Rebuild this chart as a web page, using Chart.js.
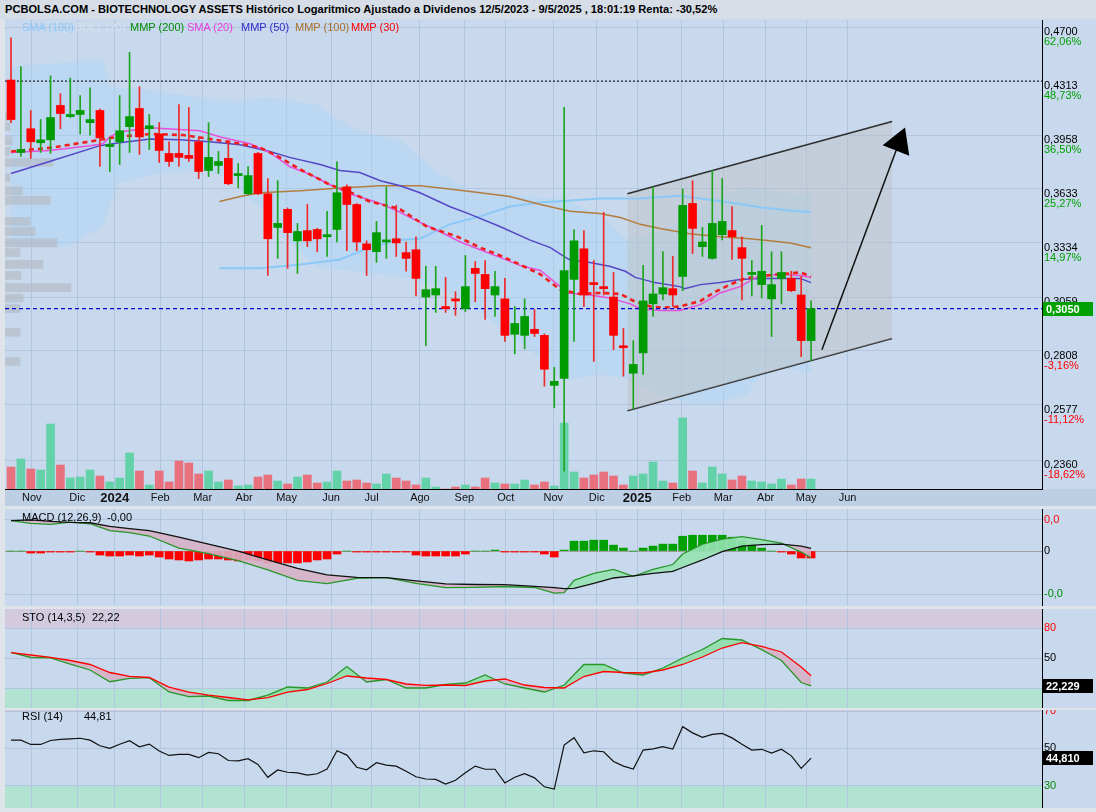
<!DOCTYPE html>
<html>
<head>
<meta charset="utf-8">
<title>BIOTECHNOLOGY ASSETS</title>
<script src="https://cdn.jsdelivr.net/npm/chart.js@4.4.1/dist/chart.umd.min.js"></script>
<style>
  body { margin:0; width:1096px; height:812px; overflow:hidden; background:#dfe4ea; position:relative;
         font-family:"Liberation Sans", Arial, sans-serif; }
  canvas { position:absolute; left:0; }
  #title { position:absolute; left:0; top:0; width:1096px; height:19px; background:#d6dde6; font-weight:bold;
           font-size:11.1px; line-height:19px; padding-left:5px; box-sizing:border-box; white-space:nowrap; }
  .t { position:absolute; white-space:nowrap; font-size:11px; line-height:13px; }
</style>
</head>
<body>
<canvas id="main" width="1096" height="506" style="top:0"></canvas>
<canvas id="macd" width="1096" height="97" style="top:509px"></canvas>
<canvas id="sto" width="1096" height="99" style="top:609px"></canvas>
<canvas id="rsi" width="1096" height="98" style="top:710px"></canvas>

<div id="title">PCBOLSA.COM - BIOTECHNOLOGY ASSETS Histórico Logaritmico Ajustado a Dividenos 12/5/2023 - 9/5/2025 , 18:01:19 Renta: -30,52%</div>
<div class="t" style="left:22px;top:21px;color:rgb(140,200,245)">SMA (100)</div>
<div class="t" style="left:75px;top:21px;color:rgb(214,224,236)">BOLL (20)</div>
<div class="t" style="left:130px;top:21px;color:rgb(0,140,0)">MMP (200)</div>
<div class="t" style="left:187px;top:21px;color:rgb(230,60,220)">SMA (20)</div>
<div class="t" style="left:241px;top:21px;color:rgb(50,40,200)">MMP (50)</div>
<div class="t" style="left:295px;top:21px;color:rgb(170,110,40)">MMP (100)</div>
<div class="t" style="left:351px;top:21px;color:rgb(255,0,0)">MMP (30)</div>
<div class="t" style="left:22px;top:511px">MACD (12,26,9)</div>
<div class="t" style="left:107px;top:511px">-0,00</div>
<div class="t" style="left:22px;top:611px">STO (14,3,5)</div>
<div class="t" style="left:92px;top:611px">22,22</div>
<div class="t" style="left:22px;top:710px">RSI (14)</div>
<div class="t" style="left:84px;top:710px">44,81</div>

<script>
// weekly candles, week of 16/10/2023 to week of 5/5/2025
var open = [0.4320,0.3850,0.3998,0.3910,0.3928,0.4149,0.4076,0.4090,0.4037,0.4116,
            0.3886,0.3916,0.4011,0.4129,0.3998,0.3965,0.3844,0.3844,0.3832,0.3916,
            0.3741,0.3771,0.3814,0.3711,0.3605,0.3844,0.3605,0.3417,0.3517,0.3345,
            0.3400,0.3406,0.3367,0.3406,0.3645,0.3544,0.3329,0.3288,0.3339,0.3356,
            0.3283,0.3298,0.3059,0.3069,0.3013,0.3050,0.3003,0.3202,0.3171,0.3069,
            0.3050,0.2883,0.2878,0.2906,0.2878,0.2658,0.2688,0.3146,0.3303,0.3130,
            0.3110,0.3059,0.2831,0.2710,0.2799,0.3026,0.3074,0.3100,0.3161,0.3550,
            0.3314,0.3253,0.3378,0.3400,0.3309,0.3171,0.3120,0.3050,0.3151,0.3151,
            0.3069,0.2854];
var high = [0.4621,0.4413,0.4116,0.4057,0.4349,0.4228,0.4334,0.4215,0.4267,0.4125,
            0.3940,0.4215,0.4514,0.4274,0.4090,0.4037,0.3916,0.4155,0.4136,0.3946,
            0.4037,0.3856,0.3922,0.3783,0.3765,0.3850,0.3693,0.3681,0.3525,0.3439,
            0.3544,0.3412,0.3506,0.3795,0.3657,0.3550,0.3345,0.3450,0.3645,0.3539,
            0.3339,0.3367,0.3212,0.3212,0.3156,0.3085,0.3268,0.3237,0.3242,0.3187,
            0.3151,0.3013,0.3050,0.2999,0.2885,0.2735,0.4136,0.3406,0.3400,0.3242,
            0.3500,0.3181,0.2910,0.2854,0.3217,0.3645,0.3288,0.3263,0.3633,0.3681,
            0.3417,0.3741,0.3693,0.3533,0.3367,0.3242,0.3428,0.3288,0.3288,0.3187,
            0.3161,0.3040];
var low = [0.4037,0.3826,0.3814,0.3850,0.3844,0.3998,0.4070,0.3965,0.3958,0.3765,
           0.3735,0.3777,0.3850,0.3838,0.3868,0.3789,0.3765,0.3765,0.3795,0.3693,
           0.3705,0.3723,0.3657,0.3639,0.3600,0.3600,0.3166,0.3253,0.3202,0.3176,
           0.3314,0.3288,0.3263,0.3339,0.3293,0.3293,0.3166,0.3232,0.3253,0.3263,
           0.3187,0.3064,0.2831,0.2985,0.2985,0.2971,0.2989,0.3036,0.2952,0.2966,
           0.2850,0.2795,0.2817,0.2873,0.2654,0.2565,0.2319,0.2850,0.3013,0.2761,
           0.3069,0.2813,0.2697,0.2561,0.2705,0.2966,0.3045,0.3013,0.3090,0.3278,
           0.3263,0.3248,0.3350,0.3248,0.3045,0.3064,0.3054,0.2873,0.3026,0.3085,
           0.2782,0.2765];
var close = [0.4057,0.3868,0.3916,0.3928,0.4070,0.4096,0.4090,0.4116,0.4057,0.3940,
             0.3898,0.3985,0.4076,0.3946,0.4017,0.3862,0.3795,0.3820,0.3814,0.3735,
             0.3820,0.3795,0.3663,0.3723,0.3711,0.3605,0.3356,0.3439,0.3389,0.3395,
             0.3345,0.3356,0.3378,0.3611,0.3544,0.3339,0.3298,0.3389,0.3350,0.3334,
             0.3253,0.3151,0.3095,0.3100,0.3003,0.3040,0.3110,0.3176,0.3100,0.3110,
             0.2878,0.2933,0.2966,0.2887,0.2727,0.2675,0.3191,0.3345,0.3069,0.3120,
             0.3100,0.2878,0.2822,0.2748,0.3040,0.3074,0.3105,0.3069,0.3539,0.3412,
             0.3339,0.3439,0.3450,0.3367,0.3253,0.3181,0.3187,0.3120,0.3181,0.3090,
             0.2854,0.3003];
var volume = [220,300,200,190,650,240,110,120,190,130, 70,110,360,180,40,180,70,280,260,150,
              180,70,90,30,40,120,140,80,50,120, 140,60,70,180,80,90,60,50,150,110,
              80,40,110,20,0,20,40,20,110,60, 50,50,90,40,70,30,660,170,110,140,
              170,130,40,130,150,270,80,60,710,180, 60,220,150,90,130,80,70,50,100,40,
              100,100];

// moving averages [week index, price]
var mmp30 = [[0,0.3856],[4.2,0.3880],[9,0.3928],[10.7,0.3946],[14.1,0.3965],[17.4,0.3958],[20.1,0.3934],[23.2,0.3904],
             [25.2,0.3880],[27.2,0.3820],[29.3,0.3747],[32.3,0.3657],[34.3,0.3616],[36.3,0.3561],[38.4,0.3533],[39.4,0.3517],
             [42.1,0.3422],[45.2,0.3367],[47.5,0.3309],[49.5,0.3268],[51.5,0.3222],[53.6,0.3171],[55.6,0.3095],[57.6,0.3074],
             [59.6,0.3079],[61.7,0.3074],[63.2,0.3036],[64.7,0.3013],[66.2,0.3008],[67.7,0.3013],[69.8,0.3040],[71.3,0.3085],
             [72.8,0.3120],[74.3,0.3151],[75.8,0.3161],[77.4,0.3171],[78.9,0.3176],[79.9,0.3181],[81,0.3161]];
var sma20 = [[0,0.3850],[3.9,0.3862],[8,0.3892],[9.3,0.3904],[10,0.3946],[11,0.3978],[14.1,0.4004],[19.1,0.3985],
             [21.2,0.3946],[24.2,0.3904],[26.2,0.3850],[28.2,0.3765],[30.3,0.3717],[32.3,0.3657],[34.3,0.3605],[37.4,0.3550],
             [39.4,0.3500],[41.4,0.3445],[43.4,0.3395],[45.5,0.3339],[47.5,0.3298],[49.5,0.3258],[51.5,0.3217],[53.6,0.3191],
             [55.6,0.3110],[56.3,0.3079],[58.6,0.3069],[60.6,0.3054],[62.7,0.3026],[63.7,0.3003],[65.7,0.2994],[67.7,0.2994],
             [69.8,0.3022],[71.8,0.3079],[73.8,0.3110],[75.8,0.3166],[77.9,0.3171],[79.9,0.3166],[81,0.3156]];
var mmp50 = [[0,0.3723],[3.9,0.3795],[9,0.3892],[11,0.3910],[14.1,0.3934],[17.1,0.3928],[20.1,0.3916],[23.2,0.3898],
             [26.2,0.3856],[28.2,0.3820],[31.3,0.3777],[33.3,0.3741],[35.3,0.3729],[37.4,0.3681],[39.4,0.3651],[41.4,0.3611],
             [44.4,0.3533],[46.5,0.3489],[49.5,0.3422],[52.5,0.3350],[54.6,0.3309],[56.5,0.3247],[58.6,0.3232],[60.6,0.3212],
             [62.2,0.3187],[63.2,0.3156],[65.2,0.3130],[67.7,0.3110],[68.2,0.3100],[69.8,0.3120],[71.8,0.3130],[73.8,0.3146],
             [75.8,0.3151],[77.9,0.3151],[79.9,0.3151],[81,0.3130]];
var mmp100 = [[21.1,0.3561],[23.2,0.3589],[25.2,0.3611],[29.3,0.3622],[33.3,0.3639],[37.4,0.3651],[41.4,0.3651],[44.4,0.3633],
              [47.5,0.3611],[50.5,0.3589],[53.6,0.3544],[56.6,0.3506],[59.6,0.3494],[61.7,0.3472],[63.7,0.3434],[65.7,0.3411],
              [68.7,0.3383],[71.8,0.3367],[74.8,0.3356],[76.8,0.3345],[78.9,0.3334],[81,0.3309]];
var sma100 = [[21.1,0.3202],[25.2,0.3202],[29.3,0.3222],[33.3,0.3247],[36.3,0.3309],[39.4,0.3350],[41.4,0.3356],[44.4,0.3434],
              [47.5,0.3478],[50.5,0.3533],[53.6,0.3555],[56.6,0.3567],[59.6,0.3578],[63.7,0.3578],[67.7,0.3594],[69.8,0.3578],
              [72.8,0.3555],[75.8,0.3528],[78.9,0.3511],[81,0.3500]];

// bollinger (20)
var bollX = [0,2.2,5.7,9.3,10,10.7,12.4,14.1,15.8,19.1,22.5,24.2,25.9,27.5,29.3,31,32.6,34.3,36,39.4,
             42.7,46.5,52.5,55.9,59.6,62.4,65.7,68.7,71.5,74.5,76.5,78.9,81];
var bollUpper = [0.4413,0.4428,0.4442,0.4463,0.4274,0.4267,0.4260,0.4254,0.4234,0.4201,0.4175,0.4188,0.4201,0.4188,0.4168,
                 0.4155,0.4076,0.4011,0.3971,0.3928,0.3747,0.3627,0.3589,0.3572,0.3489,0.3350,0.3395,0.3478,0.3589,0.3645,
                 0.3627,0.3605,0.3600];
var bollLower = [0.3314,0.3314,0.3314,0.3422,0.3533,0.3669,0.3687,0.3711,0.3729,0.3747,0.3687,0.3572,0.3500,0.3367,0.3283,
                 0.3212,0.3197,0.3191,0.3181,0.3161,0.3120,0.3022,0.2813,0.2675,0.2705,0.2684,0.2620,0.2585,0.2585,0.2620,
                 0.2740,0.2727,0.2714];

// volume by price (left side)
var vpPrice = [0.4076,0.4011,0.3922,0.3856,0.3789,0.3699,0.3622,0.3567,0.3450,0.3395,0.3334,0.3283,0.3222,0.3166,0.3105,
               0.3054,0.3003,0.2892,0.2761];
var vpVolume = [700,500,700,500,4800,500,1700,4500,2500,3000,5200,1500,3800,1600,6600,1800,1500,1500,1500];

// drawn channel + arrow
var channelX = [62.4, 89.2];
var channelUpper = [0.3605, 0.4044];
var channelLower = [0.2553, 0.2864];
var arrowX = [82.1, 89.9];
var arrowY = [0.2813, 0.3910];
var resistance = 0.4313;
var lastPriceLabel = '0,3050';

// axes
var monthPos = [2.1,6.7,10.5,15.1,19.4,23.6,27.9,32.4,36.5,41.4,45.9,50.1,54.9,59.3,63.4,67.9,72.1,76.4,80.5,84.7];
var monthLabels = ['Nov','Dic','2024','Feb','Mar','Abr','May','Jun','Jul','Ago','Sep','Oct','Nov','Dic','2025','Feb','Mar','Abr','May','Jun'];
var priceTicks = [0.4700,0.4313,0.3958,0.3633,0.3334,0.3059,0.2808,0.2577,0.2360];
var priceLabels = ['0,4700','0,4313','0,3958','0,3633','0,3334','0,3059','0,2808','0,2577','0,2360'];
var pctLabels = ['62,06%','48,73%','36,50%','25,27%','14,97%','5,48%','-3,16%','-11,12%','-18,62%'];

// MACD (12,26,9)
var macdX = [0,2,4,6,8,10,12,14,17,20,23,26,29,32,35,38,41,44,47,50,53,55,56,57,59,61,63,65,67,68,70,72,74,76,78,80,81];
var macdLine = [0.0154,0.0140,0.0135,0.0146,0.0138,0.0103,0.0093,0.0076,0.0015,-0.0013,-0.0048,-0.0095,-0.0148,-0.0164,
                -0.0138,-0.0134,-0.0163,-0.0185,-0.0183,-0.0179,-0.0184,-0.0212,-0.0210,-0.0148,-0.0113,-0.0093,-0.0128,
                -0.0093,-0.0068,-0.0015,0.0035,0.0060,0.0073,0.0058,0.0040,-0.0005,-0.0034];
var signalLine = [0.0154,0.0158,0.0150,0.0145,0.0143,0.0125,0.0113,0.0103,0.0070,0.0035,0,-0.0045,-0.0088,-0.0120,
                  -0.0133,-0.0134,-0.0151,-0.0166,-0.0169,-0.0170,-0.0178,-0.0185,-0.0190,-0.0188,-0.0163,-0.0136,-0.0125,
                  -0.0113,-0.0103,-0.0083,-0.0045,-0.0003,0.0025,0.0033,0.0035,0.0025,0.0013];
var macdHist = [0,0,-0.001,-0.001,-0.0005,-0.0005,-0.0005,0,-0.0005,-0.002,
                -0.0025,-0.0025,-0.002,-0.0025,-0.002,-0.003,-0.004,-0.0045,-0.005,-0.0045,
                -0.004,-0.004,-0.0045,-0.005,-0.0045,-0.005,-0.006,-0.006,-0.006,-0.006,
                -0.0055,-0.0045,-0.004,-0.0015,0,-0.0005,-0.0005,-0.0005,-0.0005,-0.0005,
                -0.0005,-0.002,-0.0025,-0.0025,-0.0025,-0.0025,-0.0015,0,0,0.0005,
                -0.0005,-0.0005,-0.0005,-0.0005,-0.0015,-0.003,0.0005,0.005,0.005,0.0055,
                0.0055,0.003,0.0015,0,0.0015,0.0025,0.0035,0.0035,0.0075,0.008,
                0.008,0.008,0.008,0.007,0.005,0.0035,0.0015,0,-0.0005,-0.0015,
                -0.0035,-0.0035];

// STO (14,3,5)
var stoX = [0,2,4,6,8,10,12,14,16,18,20,22,24,26,28,30,32,34,36,38,40,42,44,46,48,50,52,54,56,58,60,62,64,66,68,70,72,74,76,78,80,81];
var stoK = [55.7,50.5,50.2,43.8,38,26.3,29.7,30.4,16,11.3, 12,7.5,7.5,12.8,21,20,26,41.5,26,28.5,
            20,20,23.5,25,33,24,20,16,23,43.5, 43.5,35,33,40,50,58.5,69.5,68,58.3,47.5, 25.5,22.2];
var stoD = [55.3,53,50.7,47.5,43.5,35.5,31.7,30.5,20.8,15.8, 12.8,10.5,8.2,10.3,15.8,18.5,24.5,32,30,28.5,
            24,22.6,23,22.5,27,29,23,20.5,20,31.5, 36.5,35.5,35,38,43.5,51,60,65.3,61.7,56, 41,32.3];

// RSI (14), one per candle
var rsi = [54.4,54.4,52.1,52.1,54.2,54.8,55.1,55.4,54.4,51.4, 50,52.2,54.1,50.8,52.3,48.6,46.2,46.8,46.8,45,
           47.8,47.1,43.5,43.3,44.5,41.4,34.5,38.4,37.2,36.9, 35.7,36.4,38.9,48.7,46.4,39.9,38.5,42.3,41,40.5,
           37.7,34.8,33.6,33.4,30.9,32.9,36.9,40.5,38.8,38.8, 31.5,34.5,36.4,34.2,29.4,28.2,51.8,55.7,47.6,48.7,
           48.2,43,40.5,38.9,49.1,49.7,50.9,49.6,61.6,58.3, 55.9,57.5,58,55.6,52.2,49.1,49.5,47.5,49.5,46,
           39.3,44.8];

var plotBg = 'rgb(200,217,238)';
var bandBg = 'rgb(189,207,229)';
var gridColor = 'rgb(178,197,224)';
var upColor = 'rgb(0,155,0)', downColor = 'rgb(255,0,0)';
var font = '"Liberation Sans", Arial, sans-serif';
var xMin = -0.61, xMax = 104.38;

var idx = close.map(function (c, i) { return i; });
var isUp = idx.map(function (i) { return close[i] >= open[i]; });
function pts(xs, ys) { return xs.map(function (x, k) { return {x: x, y: ys[k]}; }); }
function pairs(a) { return a.map(function (p) { return {x: p[0], y: p[1]}; }); }

var panelBg = {
    id: 'panelBg',
    beforeDraw: function (chart, args, opts) {
        var ctx = chart.ctx, a = chart.chartArea;
        ctx.save();
        ctx.fillStyle = plotBg;
        ctx.fillRect(a.left, 0, chart.width - a.left, chart.height);
        if (opts.band) {
            ctx.fillStyle = bandBg;
            ctx.fillRect(a.left, a.bottom, chart.width - a.left, chart.height - a.bottom);
        }
        ctx.beginPath();
        ctx.rect(a.left, a.top, a.right - a.left, a.bottom - a.top);
        ctx.clip();
        (opts.zones || []).forEach(function (z) {
            var y1 = chart.scales.y.getPixelForValue(z.from), y2 = chart.scales.y.getPixelForValue(z.to);
            ctx.fillStyle = z.color;
            ctx.fillRect(a.left, Math.min(y1, y2), a.right - a.left, Math.abs(y2 - y1));
        });
        ctx.restore();
    }
};

// month names under the price panel and value labels on the right axis
var sideLabels = {
    id: 'sideLabels',
    afterDraw: function (chart, args, opts) {
        var ctx = chart.ctx, sy = chart.scales.y, sx = chart.scales.x, a = chart.chartArea, x0 = a.right;
        ctx.save();
        ctx.textBaseline = 'middle';
        if (opts.months) {
            ctx.textAlign = 'center';
            ctx.fillStyle = '#111';
            monthLabels.forEach(function (m, k) {
                var year = /^\d{4}$/.test(m);
                ctx.font = (year ? 'bold 13px ' : '11px ') + font;
                ctx.fillText(m, sx.getPixelForValue(monthPos[k]), a.bottom + 9);
            });
        }
        ctx.textAlign = 'left';
        (opts.lines || []).forEach(function (l) {
            ctx.font = '11px ' + font;
            ctx.fillStyle = l.color;
            ctx.fillText(l.text, x0 + 2, sy.getPixelForValue(l.value) + (l.dy || 0));
        });
        (opts.boxes || []).forEach(function (b) {
            var py = Math.round(sy.getPixelForValue(b.value));
            ctx.fillStyle = b.bg;
            ctx.fillRect(x0 + 1, py - 7, 50, 14);
            ctx.fillStyle = '#fff';
            ctx.font = 'bold 11px ' + font;
            ctx.fillText(b.text, x0 + 4, py + 0.5);
        });
        ctx.restore();
    }
};

function xScale(labelBand) {
    return {
        type: 'linear', min: xMin, max: xMax, offset: false,
        afterBuildTicks: function (s) { s.ticks = monthPos.map(function (v) { return {value: v}; }); },
        afterFit: function (s) { s.height = labelBand ? 17 : 0; },
        grid: {color: gridColor, drawTicks: false, offset: false},
        border: {display: labelBand, color: '#000'},
        ticks: {display: false}
    };
}

function yScale(type, min, max, ticks, zeroLine) {
    return {
        type: type, position: 'right', min: min, max: max, offset: false,
        afterBuildTicks: function (s) { s.ticks = ticks.map(function (v) { return {value: v}; }); },
        afterFit: function (s) { s.width = 54; },
        grid: {drawTicks: false, offset: false,
               color: function (c) { return zeroLine && c.tick && c.tick.value === 0 ? 'rgb(160,160,160)' : gridColor; }},
        border: {color: '#000'},
        ticks: {display: false}
    };
}

function baseOptions(padTop) {
    return {
        animation: false, responsive: false, events: [],
        layout: {autoPadding: false, padding: {left: 5, top: padTop, right: 0, bottom: 0}},
        plugins: {legend: {display: false}, tooltip: {enabled: false}}
    };
}

// ---------- main price panel ----------
var lastClose = close[close.length - 1];
var mainOpts = baseOptions(20);
mainOpts.plugins.panelBg = {band: true};
mainOpts.plugins.sideLabels = {
    months: true,
    lines: priceTicks.map(function (v, k) {
        return [{value: v, text: priceLabels[k], color: '#000', dy: 5},
                {value: v, text: pctLabels[k], color: pctLabels[k].charAt(0) === '-' ? 'rgb(255,0,0)' : 'rgb(0,160,0)', dy: 15}];
    }).flat(),
    boxes: [{value: lastClose, text: lastPriceLabel, bg: 'rgb(0,160,0)'}]
};
mainOpts.scales = {
    x: xScale(true),
    y: yScale('logarithmic', 0.2254, 0.4753, priceTicks, false),
    yv: {type: 'linear', axis: 'y', display: false, offset: false, min: 0, max: 4690},
    xvp: {type: 'linear', axis: 'x', display: false, offset: false, min: 0, max: 103700}
};

new Chart(document.getElementById('main'), {
    type: 'line',
    data: {
        datasets: [
            {type: 'line', data: pts(arrowX, arrowY), borderColor: '#111', borderWidth: 1.5,
             pointRadius: [0, 15], pointStyle: 'triangle', pointRotation: 21.5,
             pointBackgroundColor: '#000', pointBorderColor: '#000', order: 1},
            {type: 'bar', data: idx.map(function (i) { return {x: i, y: [open[i], close[i]]}; }),
             backgroundColor: idx.map(function (i) { return isUp[i] ? upColor : downColor; }),
             barThickness: 8, minBarLength: 2, grouped: false, order: 2},
            {type: 'bar', data: idx.map(function (i) { return {x: i, y: [low[i], high[i]]}; }),
             backgroundColor: idx.map(function (i) { return isUp[i] ? 'rgb(30,165,30)' : 'rgb(240,40,40)'; }),
             barThickness: 1, grouped: false, order: 3},
            {type: 'line', data: [{x: xMin, y: lastClose}, {x: xMax, y: lastClose}], borderColor: 'rgb(0,0,210)',
             borderWidth: 1.3, borderDash: [4, 3], pointRadius: 0, order: 4},
            {type: 'line', data: [{x: xMin, y: resistance}, {x: xMax, y: resistance}], borderColor: '#000',
             borderWidth: 1, borderDash: [2, 2], pointRadius: 0, order: 5},
            {type: 'line', data: pairs(mmp30), borderColor: 'rgb(240,30,30)', borderWidth: 2.6, borderDash: [5, 4], pointRadius: 0, order: 6},
            {type: 'line', data: pairs(sma20), borderColor: 'rgb(232,80,220)', borderWidth: 1.5, pointRadius: 0, order: 7},
            {type: 'line', data: pairs(mmp50), borderColor: 'rgb(85,70,200)', borderWidth: 1.5, pointRadius: 0, order: 8},
            {type: 'line', data: pairs(mmp100), borderColor: 'rgb(180,125,60)', borderWidth: 1.5, pointRadius: 0, order: 9},
            {type: 'line', data: pairs(sma100), borderColor: 'rgb(140,200,245)', borderWidth: 2, pointRadius: 0, order: 10},
            {type: 'line', data: pts(channelX, channelUpper), borderColor: 'rgb(45,45,45)', borderWidth: 1.5,
             pointRadius: 0, fill: '+1', backgroundColor: 'rgba(190,190,190,0.4)', order: 11},
            {type: 'line', data: pts(channelX, channelLower), borderColor: 'rgb(45,45,45)', borderWidth: 1.5,
             pointRadius: 0, order: 12},
            {type: 'bar', data: idx.map(function (i) { return {x: i, y: volume[i]}; }), yAxisID: 'yv',
             backgroundColor: idx.map(function (i) { return isUp[i] ? 'rgb(100,210,168)' : 'rgb(233,112,125)'; }),
             barThickness: 8, grouped: false, order: 13},
            {type: 'bar', indexAxis: 'y', xAxisID: 'xvp', yAxisID: 'y', data: pts(vpVolume, vpPrice),
             backgroundColor: 'rgba(178,184,192,0.6)', barThickness: 8, grouped: false, order: 14},
            {type: 'line', data: pts(bollX, bollUpper), borderWidth: 0, pointRadius: 0, fill: '+1',
             backgroundColor: 'rgba(168,212,245,0.4)', order: 15},
            {type: 'line', data: pts(bollX, bollLower), borderWidth: 0, pointRadius: 0, order: 16}
        ]
    },
    options: mainOpts,
    plugins: [panelBg, sideLabels]
});

// ---------- MACD ----------
var macdOpts = baseOptions(0);
macdOpts.plugins.panelBg = {};
macdOpts.plugins.sideLabels = {lines: [
    {value: 0.0158, text: '0,0', color: 'rgb(255,0,0)'},
    {value: 0, text: '0', color: '#000'},
    {value: -0.0218, text: '-0,0', color: 'rgb(0,140,0)'}
]};
macdOpts.scales = {x: xScale(false), y: yScale('linear', -0.02775, 0.02125, [0.0158, 0, -0.0218], true)};
new Chart(document.getElementById('macd'), {
    type: 'line',
    data: {
        datasets: [
            {type: 'line', data: pts(macdX, macdLine), borderColor: 'rgb(40,150,40)', borderWidth: 1.3, pointRadius: 0,
             fill: {target: 1, above: 'rgba(150,226,178,0.9)', below: 'rgba(214,176,196,0.9)'}, order: 1},
            {type: 'line', data: pts(macdX, signalLine), borderColor: '#111', borderWidth: 1.3, pointRadius: 0, order: 0},
            {type: 'bar', data: idx.map(function (i) { return {x: i, y: macdHist[i]}; }),
             backgroundColor: idx.map(function (i) { return macdHist[i] >= 0 ? 'rgb(0,160,0)' : 'rgb(255,0,0)'; }),
             barThickness: 8, grouped: false, order: 2}
        ]
    },
    options: macdOpts,
    plugins: [panelBg, sideLabels]
});

// ---------- STO ----------
var stoOpts = baseOptions(0);
stoOpts.plugins.panelBg = {zones: [{from: 80, to: 120, color: 'rgb(211,202,222)'}, {from: -20, to: 20, color: 'rgb(178,226,209)'}]};
stoOpts.plugins.sideLabels = {
    lines: [{value: 80, text: '80', color: 'rgb(255,0,0)'}, {value: 50, text: '50', color: '#000'}],
    boxes: [{value: stoK[stoK.length - 1], text: '22,229', bg: '#000'}]
};
stoOpts.scales = {x: xScale(false), y: yScale('linear', 0, 99, [80, 50, 20], false)};
new Chart(document.getElementById('sto'), {
    type: 'line',
    data: {
        datasets: [
            {type: 'line', data: pts(stoX, stoK), borderColor: 'rgb(40,150,40)', borderWidth: 1.3, pointRadius: 0,
             fill: {target: 1, above: 'rgba(140,222,165,0.85)', below: 'rgba(214,176,196,0.9)'}, order: 1},
            {type: 'line', data: pts(stoX, stoD), borderColor: 'rgb(255,0,0)', borderWidth: 1.3, pointRadius: 0, order: 0}
        ]
    },
    options: stoOpts,
    plugins: [panelBg, sideLabels]
});

// ---------- RSI ----------
var rsiOpts = baseOptions(0);
rsiOpts.plugins.panelBg = {zones: [{from: 70, to: 120, color: 'rgb(211,202,222)'}, {from: -20, to: 30, color: 'rgb(178,226,209)'}]};
rsiOpts.plugins.sideLabels = {
    lines: [{value: 70, text: '70', color: 'rgb(255,0,0)'}, {value: 50, text: '50', color: '#000'},
            {value: 30, text: '30', color: 'rgb(0,140,0)'}],
    boxes: [{value: rsi[rsi.length - 1], text: '44,810', bg: '#000'}]
};
rsiOpts.scales = {x: xScale(false), y: yScale('linear', 18.06, 70.54, [70, 50, 30], false)};
new Chart(document.getElementById('rsi'), {
    type: 'line',
    data: {
        datasets: [
            {type: 'line', data: idx.map(function (i) { return {x: i, y: rsi[i]}; }), borderColor: '#111',
             borderWidth: 1.2, pointRadius: 0}
        ]
    },
    options: rsiOpts,
    plugins: [panelBg, sideLabels]
});
</script>
</body>
</html>
